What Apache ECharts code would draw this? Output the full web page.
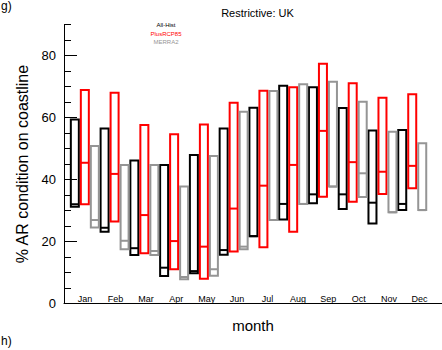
<!DOCTYPE html>
<html><head><meta charset="utf-8">
<script src="https://cdn.jsdelivr.net/npm/echarts@6/dist/echarts.min.js"></script>
<style>html,body{margin:0;padding:0;background:#fff}#c{width:442px;height:350px}</style>
</head><body><div id="c"></div>
<script>
const months = ['Jan','Feb','Mar','Apr','May','Jun','Jul','Aug','Sep','Oct','Nov','Dec'];
const yTickLabels = [0, 20, 40, 60, 80];

// All-Hist (black)
const histLow  = [31.2, 23.1, 15.6,  8.8,  9.7, 15.7, 21.7, 27.1, 32.3, 30.5, 25.8, 30.1];
const histMed  = [32.0, 24.4, 17.8, 11.5, 10.4, 17.2, 21.7, 32.1, 35.2, 35.2, 32.5, 32.1];
const histHigh = [59.4, 56.5, 46.1, 44.7, 47.9, 56.5, 63.2, 70.3, 69.8, 63.1, 55.8, 56.0];
// PlusRCP85 (red)
const rcpLow   = [32.0, 26.4, 16.2, 11.0,  7.9, 16.7, 18.1, 23.1, 34.4, 32.8, 35.3, 37.2];
const rcpMed   = [45.4, 41.8, 28.5, 20.1, 18.3, 30.6, 38.0, 44.7, 55.7, 45.6, 42.5, 44.4];
const rcpHigh  = [68.9, 68.0, 57.6, 54.6, 57.8, 64.8, 68.7, 69.8, 77.4, 71.1, 66.4, 67.5];
// MERRA2 (gray)
const merLow   = [24.5, 17.5, 15.6,  7.8,  8.9, 17.5, 26.9, 32.1, 37.7, 34.3, 29.4, 30.1];
const merMed   = [26.9, 20.2, 16.9,  8.5, 11.0, 18.3, 26.9, 32.1, 37.7, 42.0, 29.4, 30.1];
const merHigh  = [50.8, 44.7, 44.7, 37.7, 47.6, 61.9, 68.6, 70.8, 71.6, 65.1, 55.4, 51.7];

const FONT = '"Liberation Sans", Arial, Helvetica, sans-serif';

function makeSeries(name, low, med, high, color, offset) {
  return {
    type: 'custom', name: name, xAxisIndex: 0, yAxisIndex: 0, clip: false,
    data: months.map((m, i) => [i + 1, low[i], med[i], high[i]]),
    encode: { x: 0, y: [1, 2, 3] },
    renderItem: function (params, api) {
      const x = api.value(0);
      const pLow = api.coord([x, api.value(1)]);
      const pMed = api.coord([x, api.value(2)]);
      const pHigh = api.coord([x, api.value(3)]);
      const cx = pLow[0] + offset, w = 8;
      return { type: 'group', children: [
        { type: 'rect', shape: { x: cx - w / 2, y: pHigh[1], width: w, height: pLow[1] - pHigh[1] },
          style: { fill: 'none', stroke: color, lineWidth: 2 } },
        { type: 'line', shape: { x1: cx - w / 2, y1: pMed[1], x2: cx + w / 2, y2: pMed[1] },
          style: { stroke: color, lineWidth: 2 } }
      ]};
    }
  };
}

const chart = echarts.init(document.getElementById('c'), null, { renderer: 'svg' });
chart.setOption({
  animation: false,
  backgroundColor: '#fff',
  textStyle: { fontFamily: FONT },
  grid: [
    { left: 64, right: -9, top: 24.7, bottom: 46.7 },
    { left: 69.9, width: 364.8, top: 24.7, bottom: 46.7 }
  ],
  xAxis: [
    { type: 'value', gridIndex: 0, min: 0.3, max: 13.0,
      axisLine: { show: true, lineStyle: { color: '#000', width: 1 } },
      axisTick: { show: false }, axisLabel: { show: false }, splitLine: { show: false },
      name: 'month', nameLocation: 'middle', nameGap: 15,
      nameTextStyle: { fontSize: 15, color: '#000', fontFamily: FONT } },
    { type: 'category', gridIndex: 1, data: months, boundaryGap: true,
      axisLine: { show: false }, axisTick: { show: false }, splitLine: { show: false },
      axisLabel: { inside: true, margin: 0, fontSize: 9, color: '#000', fontFamily: FONT } }
  ],
  yAxis: [
    { type: 'value', gridIndex: 0, min: 0, max: 90, interval: 5, position: 'left',
      axisLine: { show: true, lineStyle: { color: '#000', width: 1 } },
      axisTick: { show: true, inside: true, length: 7, lineStyle: { color: '#000' } },
      axisLabel: { show: false }, splitLine: { show: false } },
    { type: 'value', gridIndex: 0, min: 0, max: 90, position: 'left', offset: 0,
      axisLine: { show: false },
      axisTick: { show: true, inside: true, length: 13, customValues: yTickLabels, lineStyle: { color: '#000' } },
      axisLabel: { show: true, customValues: yTickLabels, fontSize: 13, color: '#000', margin: 8, fontFamily: FONT },
      splitLine: { show: false },
      name: '% AR condition on coastline', nameLocation: 'middle', nameRotate: 90, nameGap: 26,
      nameTextStyle: { fontSize: 16, color: '#000', fontFamily: FONT } },
    { type: 'value', gridIndex: 1, show: false }
  ],
  series: [
    makeSeries('All-Hist', histLow, histMed, histHigh, '#000000', -10),
    makeSeries('PlusRCP85', rcpLow, rcpMed, rcpHigh, '#ff0000', 0),
    makeSeries('MERRA2', merLow, merMed, merHigh, '#959595', 10)
  ],
  graphic: [
    { type: 'text', left: 1, top: 0, style: { text: 'g)', fontSize: 12, fill: '#000', fontFamily: FONT } },
    { type: 'text', left: 1, top: 335, style: { text: 'h)', fontSize: 12, fill: '#000', fontFamily: FONT } },
    { type: 'text', x: 257.5, y: 13, style: { text: 'Restrictive: UK', fontSize: 11, fill: '#000', fontFamily: FONT, align: 'center', verticalAlign: 'middle' } },
    { type: 'text', x: 166, y: 25, style: { text: 'All-Hist', fontSize: 6, fill: '#000', fontFamily: FONT, align: 'center', verticalAlign: 'middle' } },
    { type: 'text', x: 166, y: 33.5, style: { text: 'PlusRCP85', fontSize: 6, fill: '#ff0000', fontFamily: FONT, align: 'center', verticalAlign: 'middle' } },
    { type: 'text', x: 166, y: 42, style: { text: 'MERRA2', fontSize: 6, fill: '#959595', fontFamily: FONT, align: 'center', verticalAlign: 'middle' } }
  ]
});
</script>
</body></html>
